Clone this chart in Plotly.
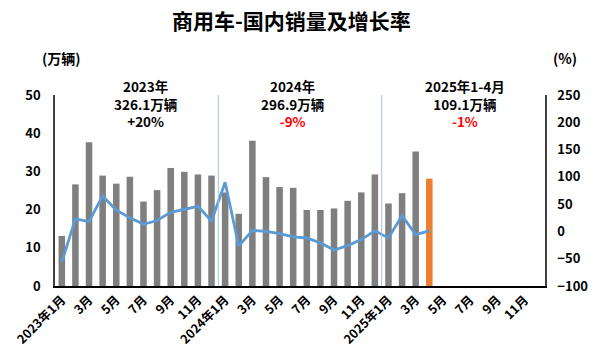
import plotly.graph_objects as go

months = [f"{y}-{m:02d}" for y in (2023, 2024, 2025) for m in range(1, 13)]
sales = [13.1, 26.6, 37.6, 28.9, 26.8, 28.6, 22.1, 25.1, 30.9, 29.9, 29.2, 28.9,
         24.5, 18.9, 38.0, 28.5, 25.9, 25.7, 19.9, 19.9, 20.3, 22.3, 24.5, 29.2,
         21.6, 24.3, 35.2, 28.1]
growth = [-56, 23, 18, 65, 39, 25, 13, 20, 35, 40, 46, 19,
          90, -27, 2, 0, -4, -10, -12, -21, -34, -26, -15, 1,
          -12, 29, -6, 1]
tick_vals = months[::2]
tick_text = ["2023年1月", "3月", "5月", "7月", "9月", "11月",
             "2024年1月", "3月", "5月", "7月", "9月", "11月",
             "2025年1月", "3月", "5月", "7月", "9月", "11月"]
summary = [("2023年", "326.1万辆", "+20%", "#000000"),
           ("2024年", "296.9万辆", "-9%", "#FF0000"),
           ("2025年1-4月", "109.1万辆", "-1%", "#FF0000")]
summary_x = [0.184, 0.485, 0.836]

FONT = "Noto Sans CJK SC"
bar_colors = ["#7F7F7F"] * (len(sales) - 1) + ["#ED7D31"]

fig = go.Figure()
fig.add_trace(go.Bar(x=months[:len(sales)], y=sales, marker_color=bar_colors,
                     marker_line_width=0, yaxis="y", showlegend=False))
fig.add_trace(go.Scatter(x=months[:len(growth)], y=growth, mode="lines",
                         line=dict(color="#5B9BD5", width=2.8), yaxis="y2",
                         showlegend=False))

for xs in (11.5, 23.5):
    fig.add_shape(type="line", xref="x", yref="paper", x0=xs, x1=xs, y0=0, y1=1.0,
                  line=dict(color="#9DC3E6", width=1))

for (a, b, c, col), xp in zip(summary, summary_x):
    fig.add_annotation(xref="paper", yref="paper", x=xp, y=0.953,
                       xanchor="center", yanchor="middle", align="center",
                       showarrow=False, borderpad=0,
                       text=f"<b>{a}<br>{b}<br><span style='color:{col}'>{c}</span></b>",
                       font=dict(family=FONT, size=13.5, color="#000000"))

fig.add_annotation(xref="paper", yref="paper", x=0.483, y=1.391,
                   xanchor="center", yanchor="middle",
                   showarrow=False, text="<b>商用车-国内销量及增长率</b>",
                   font=dict(family=FONT, size=21, color="#000000"))
fig.add_annotation(xref="paper", yref="paper", x=0.014, y=1.193,
                   xanchor="center", yanchor="middle",
                   showarrow=False, text="<b>(万辆)</b>",
                   font=dict(family=FONT, size=14, color="#000000"))
fig.add_annotation(xref="paper", yref="paper", x=1.040, y=1.193,
                   xanchor="center", yanchor="middle",
                   showarrow=False, text="<b>(%)</b>",
                   font=dict(family=FONT, size=14, color="#000000"))

fig.update_layout(
    width=600, height=360,
    margin=dict(l=46, r=55, t=95, b=73),
    paper_bgcolor="white", plot_bgcolor="white",
    bargap=0.52,
    font=dict(family=FONT, color="#000000"),
    xaxis=dict(type="category", categoryorder="array", categoryarray=months,
               range=[-0.5, len(months) - 0.5],
               tickmode="array", tickvals=tick_vals,
               ticktext=[f"<b>{t}</b>" for t in tick_text],
               tickangle=-45, tickfont=dict(size=12.5, family=FONT),
               showline=True, linecolor="#000000", linewidth=1.5,
               showgrid=False, ticks=""),
    yaxis=dict(range=[0, 50], dtick=10, showgrid=False, zeroline=False,
               showline=True, linecolor="#404040", linewidth=1.5,
               tickfont=dict(size=13, family=FONT), ticks="",
               ticklabelstandoff=10,
               tickprefix="<b>", ticksuffix="</b>"),
    yaxis2=dict(range=[-100, 250], dtick=50, overlaying="y", side="right",
                showgrid=False, zeroline=False, showline=True,
                linecolor="#404040", linewidth=1.5,
                tickfont=dict(size=13, family=FONT), ticks="",
                ticklabelstandoff=8,
                tickprefix="<b>", ticksuffix="</b>"),
)

fig.write_html("out.html")
